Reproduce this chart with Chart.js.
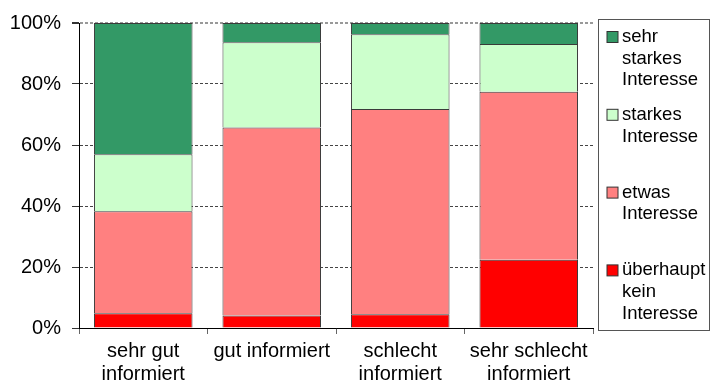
<!DOCTYPE html>
<html lang="de">
<head>
    <meta charset="UTF-8">
    <title>Interesse nach Informiertheit</title>
    <script src="https://cdn.jsdelivr.net/npm/chart.js"></script>
    <style>
        body { margin: 0; background: #fff; }
        canvas { display: block; }
    </style>
</head>
<body>
    <canvas id="chart" width="713" height="385"></canvas>

    <script>
        // categories (x axis)
        const categories = [
            ['sehr gut', 'informiert'],
            'gut informiert',
            ['schlecht', 'informiert'],
            ['sehr schlecht', 'informiert']
        ];

        // shares in percent, bottom to top of each stack
        const ueberhauptKein = [4.8, 4.1, 4.5, 22.4];
        const etwas          = [33.5, 61.6, 67.3, 55.1];
        const starkes        = [18.7, 28.0, 24.5, 15.6];
        const sehrStarkes    = [43.0, 6.3, 3.7, 6.9];

        const seriesNames = [
            ['überhaupt', 'kein', 'Interesse'],
            ['etwas', 'Interesse'],
            ['starkes', 'Interesse'],
            ['sehr', 'starkes', 'Interesse']
        ];
        const yTicks = [0, 20, 40, 60, 80, 100];

        const FONT = "'Liberation Sans', Arial, sans-serif";

        // legend drawn by hand so the labels can wrap like the original
        const boxLegend = {
            id: 'boxLegend',
            afterDraw(chart) {
                const ctx = chart.ctx;
                const area = chart.chartArea;
                const left = area.right + 5.5;
                const top = 19.5;
                const w = 111, h = 311;
                ctx.save();
                ctx.strokeStyle = '#555';
                ctx.lineWidth = 1;
                ctx.strokeRect(left, top, w, h);

                ctx.font = '18.5px ' + FONT;
                ctx.textBaseline = 'middle';
                ctx.fillStyle = '#000';
                const ds = chart.data.datasets.slice().reverse();
                ds.forEach((d, i) => {
                    const y0 = top + 17.5 + i * 77.8;
                    ctx.fillStyle = d.backgroundColor;
                    ctx.fillRect(left + 8.5, y0 - 5.5, 11, 11);
                    ctx.strokeStyle = '#333';
                    ctx.strokeRect(left + 8.5, y0 - 5.5, 11, 11);
                    ctx.fillStyle = '#000';
                    d.lines.forEach((line, j) => {
                        ctx.fillText(line, left + 23.5, y0 + j * 21.7);
                    });
                });
                ctx.restore();
            }
        };

        const mkSet = (label, data, color) => ({
            label: label.join(' '),
            lines: label,
            data: data,
            backgroundColor: color,
            borderColor: '#3a3a3a',
            borderWidth: 1,
            barPercentage: 0.767,
            categoryPercentage: 1.0
        });

        new Chart(document.getElementById('chart'), {
            type: 'bar',
            data: {
                labels: categories,
                datasets: [
                    mkSet(seriesNames[0], ueberhauptKein, '#ff0000'),
                    mkSet(seriesNames[1], etwas, '#ff8080'),
                    mkSet(seriesNames[2], starkes, '#ccffcc'),
                    mkSet(seriesNames[3], sehrStarkes, '#339966')
                ]
            },
            options: {
                responsive: false,
                animation: false,
                layout: { padding: { top: 20, right: 120, bottom: 0, left: 0 } },
                plugins: {
                    legend: { display: false },
                    tooltip: { enabled: false }
                },
                scales: {
                    x: {
                        stacked: true,
                        grid: {
                            offset: true,
                            drawOnChartArea: false,
                            tickLength: 6,
                            tickColor: '#666'
                        },
                        border: { color: '#000', width: 1 },
                        ticks: {
                            color: '#000',
                            padding: 6,
                            maxRotation: 0,
                            font: { family: FONT, size: 20, lineHeight: 1.15 }
                        },
                        afterFit(scale) { scale.height = 57; }
                    },
                    y: {
                        stacked: true,
                        min: 0,
                        max: 100,
                        afterBuildTicks(scale) {
                            scale.ticks = yTicks.map(v => ({ value: v }));
                        },
                        grid: {
                            color: c => c.tick && c.tick.value === 100 ? '#999' : '#444',
                            lineWidth: c => c.tick && c.tick.value === 100 ? 2 : 1,
                            tickLength: 7,
                            tickColor: '#333'
                        },
                        border: { color: '#000', width: 1, dash: [3, 2] },
                        ticks: {
                            color: '#000',
                            padding: 11,
                            font: { family: FONT, size: 20 },
                            callback: v => v + '%'
                        },
                        afterFit(scale) { scale.width = 79; }
                    }
                }
            },
            plugins: [boxLegend]
        });
    </script>
</body>
</html>
